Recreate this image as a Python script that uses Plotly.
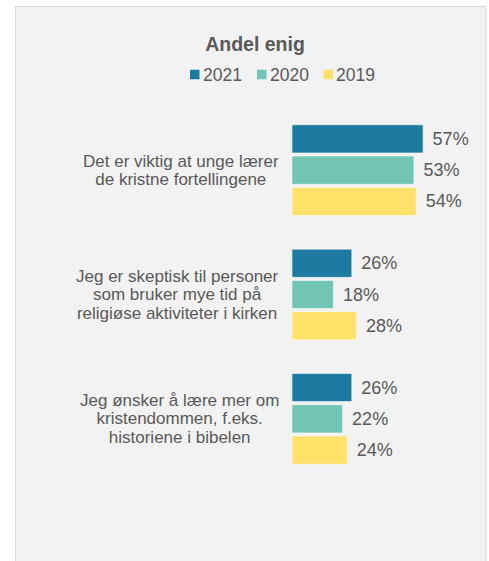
import plotly.graph_objects as go

# Survey statements, each split into the lines it is printed on
statement_lines = [
    ["Det er viktig at unge lærer", "de kristne fortellingene"],
    ["Jeg er skeptisk til personer", "som bruker mye tid på", "religiøse aktiviteter i kirken"],
    ["Jeg ønsker å lære mer om", "kristendommen, f.eks.", "historiene i bibelen"],
]
statements = [" ".join(lines) for lines in statement_lines]

years = ["2021", "2020", "2019"]
share_2021 = [57, 26, 26]
share_2020 = [53, 18, 22]
share_2019 = [54, 28, 24]
series = [share_2021, share_2020, share_2019]

colors = ["#1d7ba1", "#72c4b5", "#fee169"]
text_color = "#595959"
font_family = "Liberation Sans, Arial, sans-serif"

W, H = 489, 561
M_L, M_R, M_T, M_B = 292, 0, 108, 80
plot_w = W - M_L - M_R
plot_h = H - M_T - M_B


def px_x(px):
    return (px - M_L) / plot_w


def px_y(py):
    return (H - M_B - py) / plot_h


fig = go.Figure()
for year, values, color in zip(years, series, colors):
    fig.add_trace(go.Bar(
        name=year,
        y=statements,
        x=values,
        orientation="h",
        marker=dict(color=color, line=dict(color="rgba(255,255,255,0.55)", width=1)),
        texttemplate="\u00a0\u200a%{x}%",
        textposition="outside",
        textfont=dict(size=18, color=text_color, family=font_family),
        cliponaxis=False,
        hoverinfo="skip",
        showlegend=False,
    ))

annotations = []

# Wrapped, centred statement labels to the left of the bars
# (smaller base size sets a tighter line pitch; the span sets the glyph size)
for key, lines in zip(statements, statement_lines):
    text = "<br>".join(f'<span style="font-size:17px">{ln}</span>' for ln in lines)
    annotations.append(dict(
        x=0, xref="paper", y=key, yref="y",
        xanchor="right", yanchor="middle", xshift=-11,
        text=text, align="center", showarrow=False,
        font=dict(size=14.1, color=text_color, family=font_family),
    ))

# Panel background and the legend row: colour squares followed by the year
shapes = [dict(
    type="rect", xref="paper", yref="paper", layer="below",
    x0=px_x(15.5), x1=px_x(486), y0=px_y(565), y1=px_y(6.5),
    fillcolor="#f2f2f2", line=dict(color="#d9d9d9", width=1),
)]
legend_left = [190, 257, 323.5]
legend_y = 74.5
for year, color, left in zip(years, colors, legend_left):
    shapes.append(dict(
        type="rect", xref="paper", yref="paper",
        x0=px_x(left), x1=px_x(left + 9.5),
        y0=px_y(legend_y + 4.75), y1=px_y(legend_y - 4.75),
        fillcolor=color, line=dict(width=0),
    ))
    annotations.append(dict(
        x=px_x(left + 10.5), xref="paper", y=px_y(legend_y + 0.5), yref="paper",
        xanchor="left", yanchor="middle", text=year, showarrow=False,
        font=dict(size=17.5, color=text_color, family=font_family),
    ))

fig.update_layout(
    width=W, height=H,
    margin=dict(l=M_L, r=M_R, t=M_T, b=M_B),
    paper_bgcolor="white",
    plot_bgcolor="rgba(0,0,0,0)",
    font=dict(family=font_family, color=text_color, size=17),
    barmode="group",
    bargap=0.245,
    bargroupgap=0.1,
    showlegend=False,
    title=dict(
        text="<b>Andel enig</b>",
        xref="container", yref="container",
        x=255 / W, y=1 - 44 / H, xanchor="center", yanchor="middle",
        font=dict(size=19.5, color=text_color, family=font_family),
    ),
    xaxis=dict(
        range=[0, plot_w / 2.3],
        visible=False, fixedrange=True,
    ),
    yaxis=dict(
        type="category",
        categoryorder="array", categoryarray=statements,
        range=[2.5, -0.5],
        showticklabels=False, showgrid=False, zeroline=False,
        showline=False, ticks="", fixedrange=True,
    ),
    shapes=shapes,
    annotations=annotations,
)

fig.write_html("out.html", config={"displayModeBar": False})
